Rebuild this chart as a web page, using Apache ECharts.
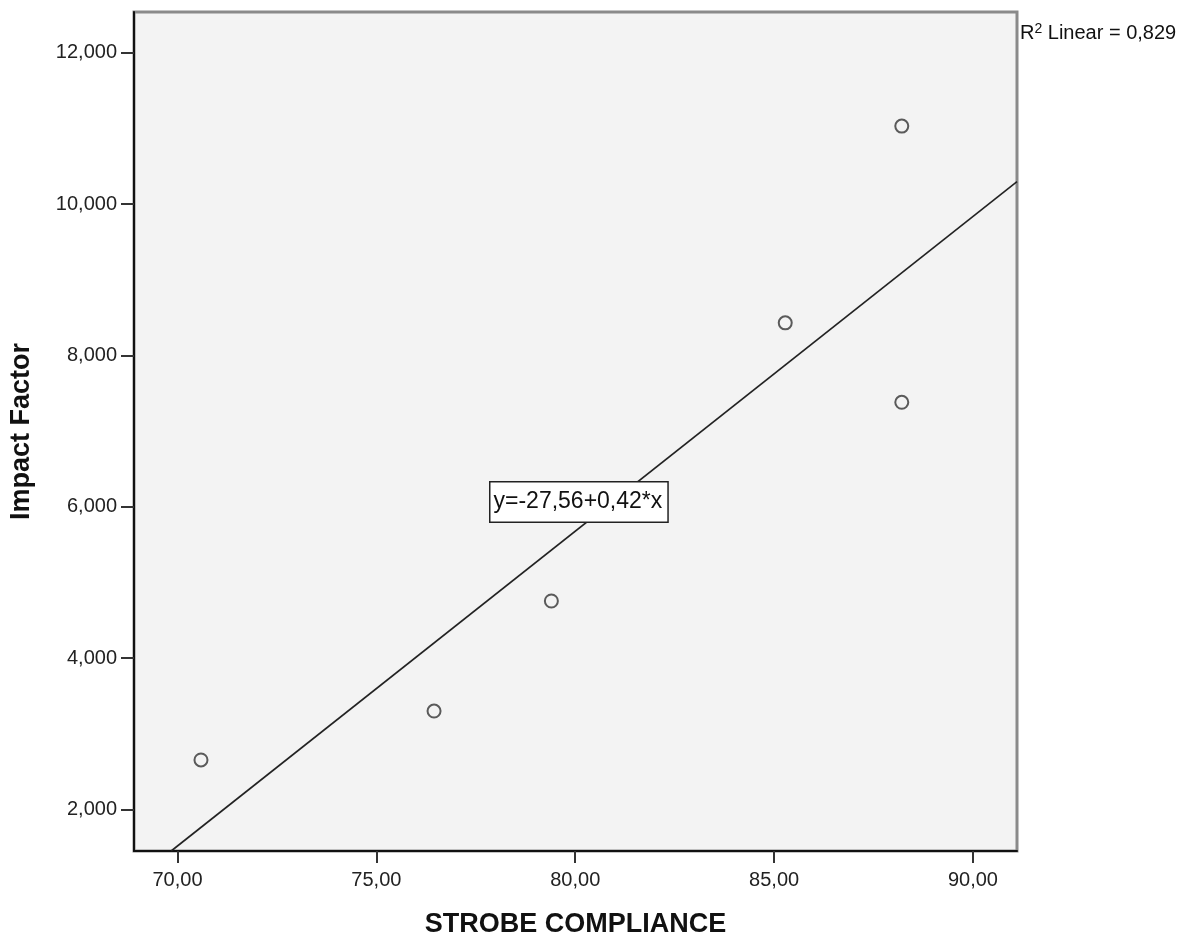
<!DOCTYPE html>
<html>
<head>
<meta charset="utf-8">
<script src="https://cdn.jsdelivr.net/npm/echarts@6/dist/echarts.min.js"></script>
<style>html,body{margin:0;padding:0;background:#fff;}#c{width:1191px;height:935px;}</style>
</head>
<body>
<div id="c"></div>
<script>
// Data
var strobeCompliance = [70.59, 76.45, 79.40, 85.28, 88.21, 88.21];
var impactFactor     = [2.653, 3.30, 4.754, 8.43, 11.03, 7.38];
// Fit line endpoints (clipped by the plot frame)
var fitX = [69.84, 91.107];
var fitY = [1.45, 10.295];
var xTicks = [70, 75, 80, 85, 90];
var yTicks = [2, 4, 6, 8, 10, 12];
var equationLabel = 'y=-27,56+0,42*x';
var r2Label = '0,829';

var chart = echarts.init(document.getElementById('c'), null, {renderer: 'canvas'});
var pts = strobeCompliance.map(function (x, i) { return [x, impactFactor[i]]; });
var fit = fitX.map(function (x, i) { return [x, fitY[i]]; });
var font = '"Liberation Sans", Arial, sans-serif';

chart.setOption({
  animation: false,
  backgroundColor: '#ffffff',
  grid: {
    left: 134, top: 12, right: 174, bottom: 84,
    outerBoundsMode: 'none', containLabel: false,
    show: true, backgroundColor: '#f3f3f3', borderColor: '#8a8a8a', borderWidth: 3
  },
  title: {
    left: 1015, top: 17,
    text: '{r|R}{s|2}{t| Linear = ' + r2Label + '}',
    textStyle: {
      fontWeight: 'normal',
      rich: {
        r: {fontFamily: font, fontSize: 20, color: '#111', fontWeight: 'normal'},
        s: {fontFamily: font, fontSize: 14, color: '#111', fontWeight: 'normal', verticalAlign: 'top', padding: [0, 0, 9, 0]},
        t: {fontFamily: font, fontSize: 20, color: '#111', fontWeight: 'normal'}
      }
    }
  },
  xAxis: {
    type: 'value', min: 68.906, max: 91.107, interval: 5,
    axisLine: {show: true, onZero: false, lineStyle: {color: '#111', width: 2}},
    axisTick: {show: true, length: 12, lineStyle: {color: '#333', width: 2}, customValues: xTicks},
    axisLabel: {
      customValues: xTicks, margin: 19, fontFamily: font, fontSize: 20, color: '#222',
      formatter: function (v) { return v.toFixed(2).replace('.', ','); }
    },
    splitLine: {show: false},
    name: 'STROBE COMPLIANCE', nameLocation: 'middle', nameGap: 60,
    nameTextStyle: {fontFamily: font, fontSize: 27, fontWeight: 'bold', color: '#111'}
  },
  yAxis: {
    type: 'value', min: 1.45, max: 12.538,
    axisLine: {show: true, onZero: false, lineStyle: {color: '#111', width: 2}},
    axisTick: {show: true, length: 13, lineStyle: {color: '#333', width: 2}, customValues: yTicks},
    axisLabel: {
      customValues: yTicks, margin: 17, fontFamily: font, fontSize: 20, color: '#222',
      formatter: function (v) { return v.toFixed(3).replace('.', ','); }
    },
    splitLine: {show: false},
    name: 'Impact Factor', nameLocation: 'middle', nameGap: 99,
    nameTextStyle: {fontFamily: font, fontSize: 27, fontWeight: 'bold', color: '#111'}
  },
  series: [
    {
      type: 'line', data: fit, symbol: 'none', clip: true,
      lineStyle: {color: '#222', width: 1.6}, z: 2, silent: true
    },
    {
      type: 'scatter', data: pts, symbol: 'circle', symbolSize: 13,
      itemStyle: {color: 'rgba(0,0,0,0)', borderColor: '#333', borderWidth: 2}, z: 3
    }
  ],
  graphic: [{
    type: 'text', left: 489, top: 481, z: 10,
    style: {
      text: equationLabel, fontFamily: font, fontSize: 23, fill: '#111',
      backgroundColor: '#ffffff', borderColor: '#222', borderWidth: 1.5,
      padding: [8, 5, 8, 3]
    }
  }]
});
</script>
</body>
</html>
